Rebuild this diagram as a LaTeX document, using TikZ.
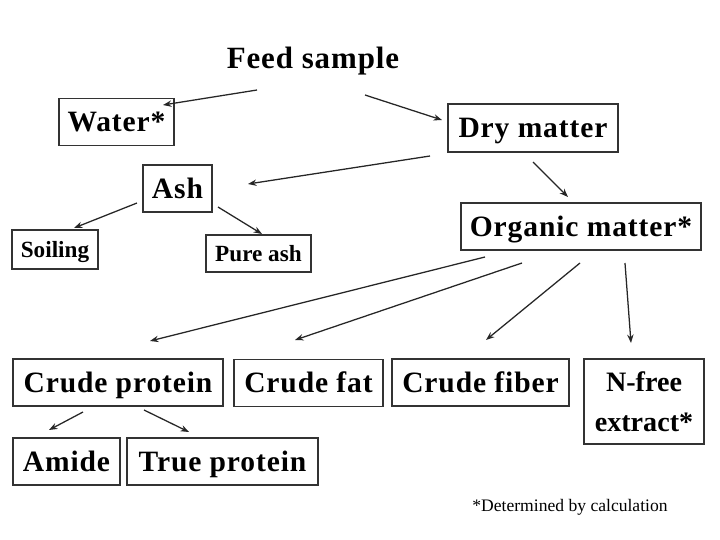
\documentclass[tikz,border=0pt]{standalone}
\usepackage{fontspec}
\setmainfont{Liberation Serif}
\newfontfamily\spacedfont{Liberation Serif}[LetterSpace=3]
\usetikzlibrary{arrows.meta}

\begin{document}
\begin{tikzpicture}[
      x=0.25mm, y=-0.25mm,
      frame/.style={draw=black!80, line width=1.3pt, inner sep=0pt},
      box/.style={frame, minimum height=11.75mm, text height=16pt, text depth=2pt,
                  font=\spacedfont\bfseries\fontsize{21}{25}\selectfont},
      smallbox/.style={frame, text height=12.5pt, text depth=1.5pt,
                       font=\bfseries\fontsize{16.5}{19}\selectfont},
      arr/.style={-{Stealth[length=6pt,width=4.5pt]}, line width=0.9pt, black!85}
    ]
    \useasboundingbox[fill=white] (0,0) rectangle (720,540);

    % Top levels
    \node[anchor=base, font=\spacedfont\bfseries\fontsize{22}{26}\selectfont]
      (fs) at (313,68) {Feed sample};
    \node[box, minimum width=28.75mm] (water) at (116.5,122) {Water*};
    \node[box, minimum width=42.5mm, minimum height=12mm] (dry) at (533,128) {Dry matter};
    \node[box, minimum width=17.25mm] (ash) at (177.5,188.5) {Ash};
    \node[box, minimum width=60mm] (om) at (581,226.5) {Organic matter*};

    % Ash parts
    \node[smallbox, minimum width=21.5mm, minimum height=9.75mm] (soil) at (55,249.5) {Soiling};
    \node[smallbox, minimum width=26.25mm, minimum height=9.25mm] (pure) at (258.5,253.5) {Pure ash};

    % Organic matter parts
    \node[box, minimum width=52.5mm] (cp) at (118,382.5) {Crude protein};
    \node[box, minimum width=37.25mm] (cfat) at (308.5,383) {Crude fat};
    \node[box, minimum width=44.25mm] (cfib) at (480.5,382.5) {Crude fiber};
    \node[frame, align=center, minimum width=30mm, minimum height=21.25mm,
          font=\bfseries\fontsize{20}{28.5}\selectfont] (nfe) at (644,401.5) {N-free\\extract*};

    % Crude protein parts
    \node[box, minimum width=26.75mm] (amide) at (66.5,461.5) {Amide};
    \node[box, minimum width=47.75mm] (tp) at (222.5,461.5) {True protein};

    \node[font=\fontsize{12.5}{15}\selectfont] (note) at (570,507) {*Determined by calculation};

    % Arrows
    \draw[arr] ([shift={(-56,22)}]fs.base) -- ([shift={(46.5,-17)}]water.center);
    \draw[arr] ([shift={(52,27)}]fs.base) -- ([shift={(-91,-8)}]dry.center);
    \draw[arr] ([shift={(-103,28)}]dry.center) -- ([shift={(70.5,-4.5)}]ash.center);
    \draw[arr] ([shift={(0,34)}]dry.center) -- ([shift={(-13,-29.5)}]om.center);
    \draw[arr] ([shift={(-40.5,14.5)}]ash.center) -- ([shift={(19,-21.5)}]soil.center);
    \draw[arr] ([shift={(40.5,18.5)}]ash.center) -- ([shift={(3.5,-19.5)}]pure.center);
    \draw[arr] ([shift={(-96,30.5)}]om.center) -- ([shift={(32,-41.5)}]cp.center);
    \draw[arr] ([shift={(-59,36.5)}]om.center) -- ([shift={(-13.5,-43)}]cfat.center);
    \draw[arr] ([shift={(-1,36.5)}]om.center) -- ([shift={(5.5,-42.5)}]cfib.center);
    \draw[arr] ([shift={(44,36.5)}]om.center) -- ([shift={(-13,-58.5)}]nfe.center);
    \draw[arr] ([shift={(-35,29.5)}]cp.center) -- ([shift={(-17.5,-31.5)}]amide.center);
    \draw[arr] ([shift={(26,27.5)}]cp.center) -- ([shift={(-33.5,-29.5)}]tp.center);
  \end{tikzpicture}
\end{document}
